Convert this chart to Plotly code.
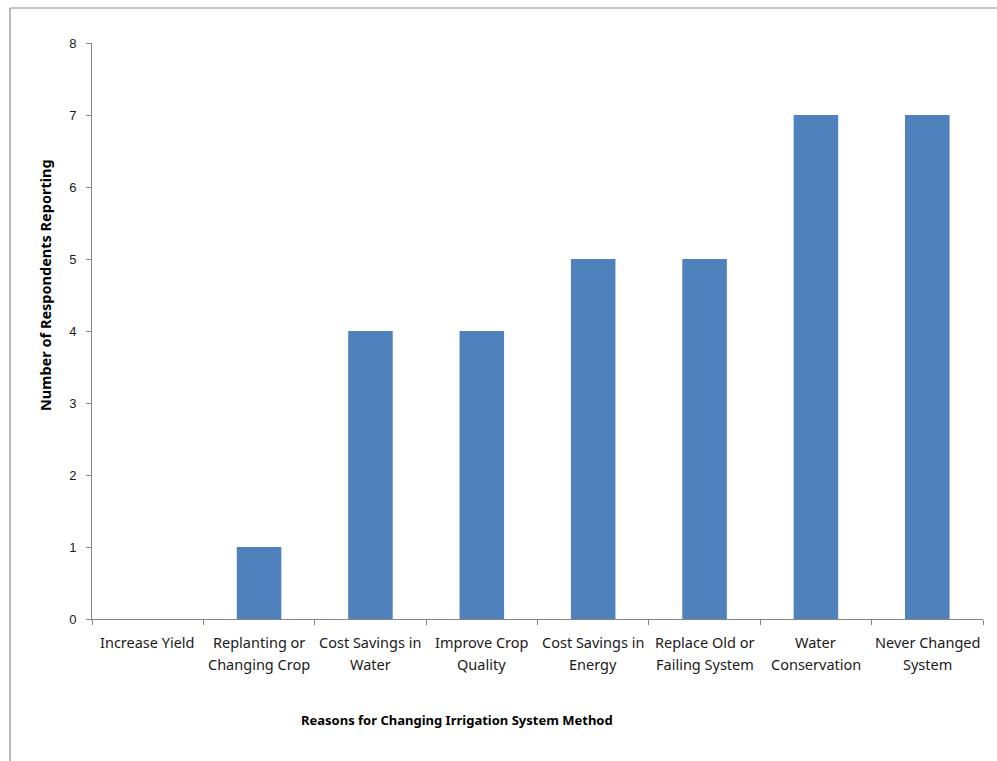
import plotly.graph_objects as go

# Survey results: reasons for changing irrigation system method
categories = [
    "Increase Yield",
    "Replanting or<br>Changing Crop",
    "Cost Savings in<br>Water",
    "Improve Crop<br>Quality",
    "Cost Savings in<br>Energy",
    "Replace Old or<br>Failing System",
    "Water<br>Conservation",
    "Never Changed<br>System",
]
respondents = [0, 1, 4, 4, 5, 5, 7, 7]
y_ticks = [0, 1, 2, 3, 4, 5, 6, 7, 8]

BAR = "#4F81BD"
AXIS = "#868686"
LABEL_FONT = "Noto Sans"
TITLE_FONT = "Noto Sans"

fig = go.Figure(
    go.Bar(
        x=list(range(len(categories))),
        y=respondents,
        marker=dict(color=BAR, line=dict(width=0)),
        width=0.4,
    )
)

# Two-line category labels below the axis
for i, cat in enumerate(categories):
    lines = cat.split("<br>")
    for j, line in enumerate(lines):
        fig.add_annotation(
            x=i, xref="x", y=-0.0399 - 0.0382 * j, yref="paper",
            text=line, showarrow=False, xanchor="center", yanchor="middle",
            font=dict(family=LABEL_FONT, size=14.5, color="#1a1a1a"),
        )

fig.add_annotation(
    x=0.4097, xref="paper", y=-0.175, yref="paper",
    text="<b>Reasons for Changing Irrigation System Method</b>",
    showarrow=False, xanchor="center", yanchor="middle",
    font=dict(family=TITLE_FONT, size=13, color="#000000"),
)
fig.add_annotation(
    x=-0.0527, xref="paper", y=0.58, yref="paper",
    text="<b>Number of Respondents Reporting</b>", textangle=-90,
    showarrow=False, xanchor="center", yanchor="middle",
    font=dict(family=TITLE_FONT, size=14.5, color="#000000"),
)

# Chart-area frame (top and left edges)
fig.add_shape(type="line", xref="paper", yref="paper",
              x0=-0.092, x1=1.02, y0=1.0608, y1=1.0608,
              line=dict(color="#8c8c8c", width=1.2))
fig.add_shape(type="line", xref="paper", yref="paper",
              x0=-0.092, x1=-0.092, y0=-0.25, y1=1.0608,
              line=dict(color="#8c8c8c", width=1.2))

fig.update_layout(
    width=997, height=761,
    margin=dict(l=92, r=14, t=43, b=142),
    paper_bgcolor="white", plot_bgcolor="white",
    showlegend=False,
    xaxis=dict(
        range=[-0.5, len(categories) - 0.5],
        tickvals=[i - 0.5 for i in range(len(categories) + 1)],
        showticklabels=False,
        ticks="outside", ticklen=5, tickcolor=AXIS,
        showline=True, linecolor=AXIS, linewidth=1,
        showgrid=False, zeroline=False,
    ),
    yaxis=dict(
        range=[0, 8],
        tickvals=y_ticks,
        ticks="outside", ticklen=5, tickcolor=AXIS,
        showline=True, linecolor=AXIS, linewidth=1,
        showgrid=False, zeroline=False,
        tickfont=dict(family="Liberation Sans", size=13, color="#1a1a1a"),
        ticklabelstandoff=7,
    ),
)

fig.write_html("out.html")
